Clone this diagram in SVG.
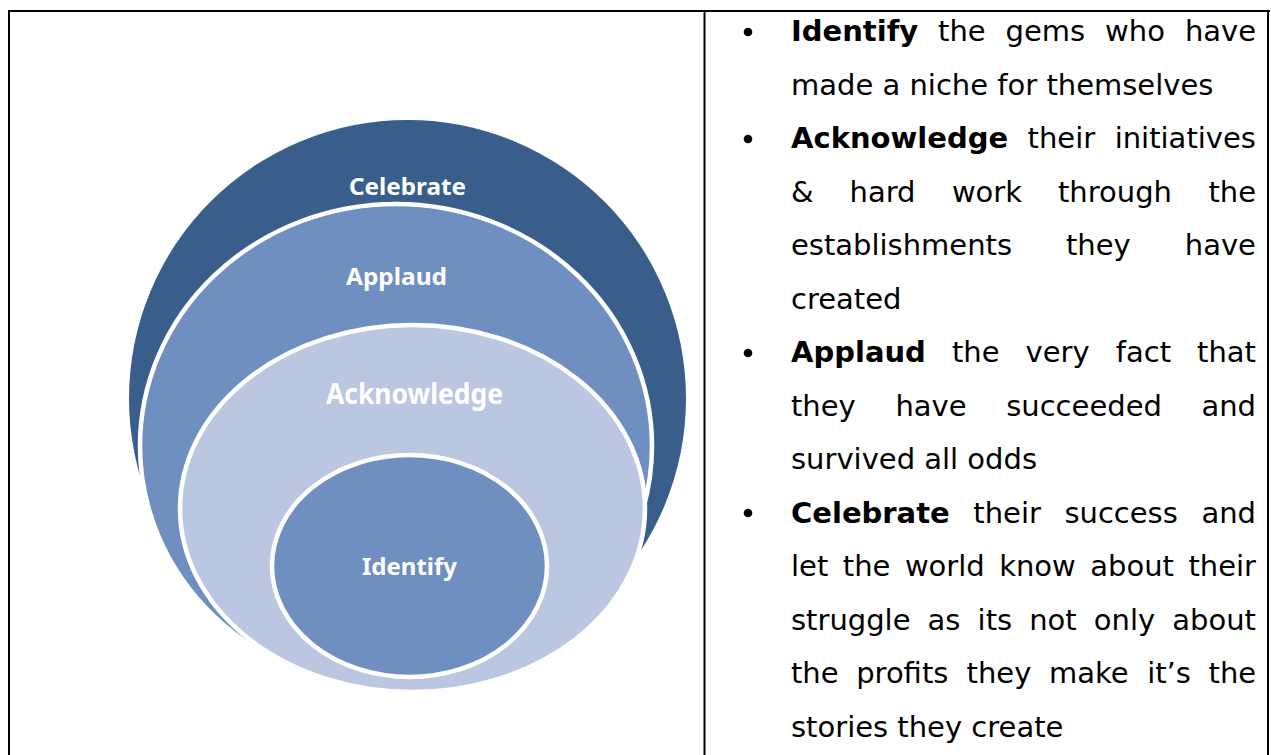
<svg xmlns="http://www.w3.org/2000/svg" width="1271" height="755" viewBox="0 0 1271 755">
<style>
.ring{stroke:#FFFFFF;stroke-width:4.5}
.dark{fill:#3A5E8B}
.mid{fill:#6F8FC0}
.light{fill:#BBC7E0}
.lbl{font-family:"Noto Sans","Open Sans","DejaVu Sans",sans-serif;font-weight:bold;fill:#FFFFFF;text-anchor:middle}
.body{font-family:"DejaVu Sans","Liberation Sans",sans-serif;font-size:29px;fill:#000000}
.b{font-weight:bold}
.rule{stroke:#000000;stroke-width:2;fill:none}
</style>
<rect width="1271" height="755" fill="#FFFFFF"/>
<g id="table">
<line class="rule" x1="8" y1="11" x2="1270" y2="11"/>
<line class="rule" x1="9" y1="10" x2="9" y2="755"/>
<line class="rule" x1="704.5" y1="10" x2="704.5" y2="755"/>
<line class="rule" x1="1268" y1="10" x2="1268" y2="755"/>
</g>
<g id="celebrate">
<circle class="dark" cx="407.5" cy="398.5" r="278.5"/>
<text class="lbl" x="407.5" y="195" font-size="24" textLength="117" lengthAdjust="spacingAndGlyphs">Celebrate</text>
</g>
<g id="applaud">
<ellipse class="ring mid" cx="396" cy="446" rx="256" ry="242"/>
<text class="lbl" x="396.5" y="285" font-size="24" textLength="101" lengthAdjust="spacingAndGlyphs">Applaud</text>
</g>
<g id="acknowledge">
<ellipse class="ring light" cx="412.5" cy="508.5" rx="232.5" ry="183.5"/>
<text class="lbl" x="414.5" y="404" font-size="28" textLength="177" lengthAdjust="spacingAndGlyphs">Acknowledge</text>
</g>
<g id="identify">
<ellipse class="ring mid" cx="409.5" cy="566" rx="137.5" ry="111"/>
<text class="lbl" x="409.5" y="575" font-size="24" textLength="95" lengthAdjust="spacingAndGlyphs">Identify</text>
</g>
<g id="connectors"></g>
<g id="bullets" fill="#000000">
<circle cx="748" cy="32" r="4.3"/>
<circle cx="748" cy="139" r="4.3"/>
<circle cx="748" cy="353" r="4.3"/>
<circle cx="748" cy="513" r="4.3"/>
</g>
<g id="text" class="body">
<text y="41"><tspan class="b" x="791">Identify</tspan><tspan x="938.1">the</tspan><tspan x="1005.6">gems</tspan><tspan x="1105.1">who</tspan><tspan x="1184.9">have</tspan></text>
<text x="791" y="94.5">made a niche for themselves</text>
<text y="148"><tspan class="b" x="791">Acknowledge</tspan><tspan x="1027.6">their</tspan><tspan x="1114.7">initiatives</tspan></text>
<text y="201.5"><tspan x="791">&amp;</tspan><tspan x="849.5">hard</tspan><tspan x="951.9">work</tspan><tspan x="1058">through</tspan><tspan x="1208.5">the</tspan></text>
<text y="255"><tspan x="791">establishments</tspan><tspan x="1066">they</tspan><tspan x="1184.8">have</tspan></text>
<text x="791" y="308.5">created</text>
<text y="362"><tspan class="b" x="791">Applaud</tspan><tspan x="952">the</tspan><tspan x="1025.6">very</tspan><tspan x="1115.8">fact</tspan><tspan x="1197.1">that</tspan></text>
<text y="415.5"><tspan x="791">they</tspan><tspan x="895.4">have</tspan><tspan x="1006.2">succeeded</tspan><tspan x="1201.4">and</tspan></text>
<text x="791" y="469">survived all odds</text>
<text y="522.5"><tspan class="b" x="791">Celebrate</tspan><tspan x="973.3">their</tspan><tspan x="1064.4">success</tspan><tspan x="1201.4">and</tspan></text>
<text y="576"><tspan x="791">let</tspan><tspan x="842.8">the</tspan><tspan x="904.9">world</tspan><tspan x="999.2">know</tspan><tspan x="1090.3">about</tspan><tspan x="1188.4">their</tspan></text>
<text y="629.5"><tspan x="791">struggle</tspan><tspan x="927.6">as</tspan><tspan x="977.6">its</tspan><tspan x="1029.2">not</tspan><tspan x="1093.8">only</tspan><tspan x="1172.3">about</tspan></text>
<text y="683"><tspan x="791">the</tspan><tspan x="856.2">profits</tspan><tspan x="966.6">they</tspan><tspan x="1049">make</tspan><tspan x="1147.2">it’s</tspan><tspan x="1208.6">the</tspan></text>
<text x="791" y="736.5">stories they create</text>
</g>
</svg>
